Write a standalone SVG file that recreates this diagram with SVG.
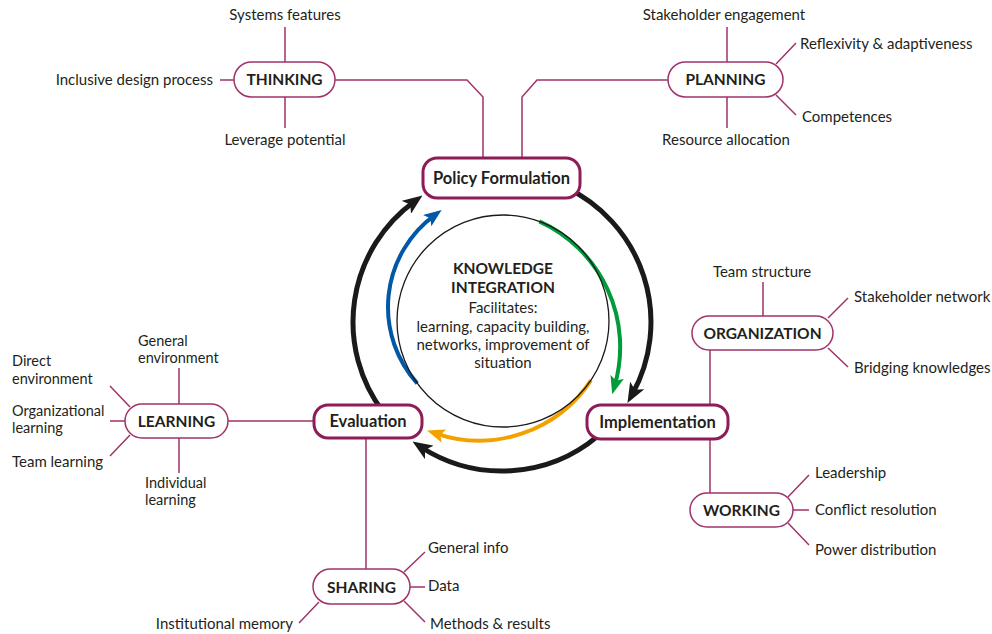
<svg xmlns="http://www.w3.org/2000/svg" width="992" height="634" viewBox="0 0 992 634">
<style>
.ln{fill:none;stroke:#a0336b;stroke-width:1.5}
.pill{fill:#fff;stroke:#a0336b;stroke-width:1.5}
.main{fill:#fff;stroke:#8c1d56;stroke-width:3}
.t{font-family:Lato,"Open Sans",sans-serif;font-size:15px;fill:#231f20}
.t2{font-size:14.5px}
.b{font-family:Lato,"Open Sans",sans-serif;font-size:15.5px;font-weight:700;fill:#231f20;text-anchor:middle}
.bm{font-size:16.5px}
.m{text-anchor:middle}
.e{text-anchor:end}
.blk{fill:none;stroke:#1a1a1a;stroke-width:5}
.col{fill:none;stroke-width:4}
</style>
<defs>
<marker id="ak" markerUnits="userSpaceOnUse" markerWidth="20" markerHeight="16" viewBox="0 0 20 16" refX="10" refY="8" orient="auto"><path d="M0,0 L20,8 L0,16 L5,8 z" fill="#1a1a1a"/></marker>
<marker id="ab" markerUnits="userSpaceOnUse" markerWidth="18" markerHeight="14" viewBox="0 0 18 14" refX="9" refY="7" orient="auto"><path d="M0,0 L18,7 L0,14 L4,7 z" fill="#0058a6"/></marker>
<marker id="ag" markerUnits="userSpaceOnUse" markerWidth="18" markerHeight="14" viewBox="0 0 18 14" refX="9" refY="7" orient="auto"><path d="M0,0 L18,7 L0,14 L4,7 z" fill="#009b3a"/></marker>
<marker id="ao" markerUnits="userSpaceOnUse" markerWidth="18" markerHeight="14" viewBox="0 0 18 14" refX="9" refY="7" orient="auto"><path d="M0,0 L18,7 L0,14 L4,7 z" fill="#f4a100"/></marker>
</defs>
<rect width="992" height="634" fill="#fff"/>
<g id="connectors">
<path class="ln" d="M285,27 V62 M285,97 V128 M220,80 H234 M335,80 H467 L483,97 V158"/>
<path class="ln" d="M727,27 V62 M727,97 V128 M776,64 L796,43 M776,95 L796,115 M668,80 H537 L522,97 V158"/>
<path class="ln" d="M179,368 V404 M179,438 V473 M110,386 L130,407 M110,421 H125 M130,435 L110,456 M228,421 H314"/>
<path class="ln" d="M366,438 V569"/>
<path class="ln" d="M404,572 L425,552 M410,587 H425 M404,601 L425,622 M319,602 L299,623"/>
<path class="ln" d="M763,282 V316 M828,318 L848,298 M828,348 L848,367 M710,350 V405"/>
<path class="ln" d="M710,439 V493"/>
<path class="ln" d="M788,497 L809,475 M793,510 H809 M788,523 L809,545"/>
<path class="blk" d="M565,187 A149,149 0 0 1 632.3,394.2" marker-end="url(#ak)"/>
<path class="blk" d="M597.8,436.1 A149,149 0 0 1 420.9,447" marker-end="url(#ak)"/>
<path class="blk" d="M383,411.7 A149,149 0 0 1 414.4,201.5" marker-end="url(#ak)"/>
<path class="col" stroke="#0058a6" d="M417.2,383.3 A114,114 0 0 1 434.4,215.3" marker-end="url(#ab)"/>
<path class="col" stroke="#009b3a" d="M539.3,221.4 A138,138 0 0 1 614.7,385.5" marker-end="url(#ag)"/>
<path class="col" stroke="#f4a100" d="M590.9,380.3 A134,134 0 0 1 435.5,433.3" marker-end="url(#ao)"/>
</g>
<g id="knowledge-integration">
<circle cx="503" cy="321" r="106" fill="none" stroke="#1a1a1a" stroke-width="1.3"/>
<text class="b" x="503" y="274" style="font-size:15.5px">KNOWLEDGE</text>
<text class="b" x="503" y="293" style="font-size:15.5px">INTEGRATION</text>
<text class="t m" x="503" y="313">Facilitates:</text>
<text class="t m" x="503" y="332">learning, capacity building,</text>
<text class="t m" x="503" y="350">networks, improvement of</text>
<text class="t m" x="503" y="368">situation</text>
</g>
<g id="policy-formulation">
<rect class="main" x="423" y="158" width="157" height="40" rx="14"/>
<text class="b bm" x="501.5" y="184">Policy Formulation</text>
</g>
<g id="evaluation">
<rect class="main" x="314" y="405" width="108" height="33" rx="14"/>
<text class="b bm" x="368" y="427">Evaluation</text>
</g>
<g id="implementation">
<rect class="main" x="587" y="405" width="141" height="34" rx="14"/>
<text class="b bm" x="657.5" y="427.5">Implementation</text>
</g>
<g id="thinking">
<rect class="pill" x="234" y="62" width="101" height="35" rx="17.5"/>
<text class="b" x="284.5" y="85">THINKING</text>
<text class="t m" x="285" y="20">Systems features</text>
<text class="t e" x="213" y="85">Inclusive design process</text>
<text class="t m" x="285" y="145">Leverage potential</text>
</g>
<g id="planning">
<rect class="pill" x="668" y="62" width="115" height="35" rx="17.5"/>
<text class="b" x="725.5" y="85">PLANNING</text>
<text class="t m" x="724" y="20">Stakeholder engagement</text>
<text class="t" x="800" y="49">Reflexivity &amp; adaptiveness</text>
<text class="t" x="802" y="122">Competences</text>
<text class="t m" x="726" y="145">Resource allocation</text>
</g>
<g id="learning">
<rect class="pill" x="125" y="404" width="103" height="34" rx="17"/>
<text class="b" x="176.5" y="427">LEARNING</text>
<text class="t t2" x="138" y="345.5">General</text>
<text class="t t2" x="138" y="363">environment</text>
<text class="t t2" x="12" y="366">Direct</text>
<text class="t t2" x="12" y="383.5">environment</text>
<text class="t t2" x="12" y="415.5">Organizational</text>
<text class="t t2" x="12" y="433">learning</text>
<text class="t" x="12" y="467">Team learning</text>
<text class="t t2" x="145" y="487.5">Individual</text>
<text class="t t2" x="145" y="505">learning</text>
</g>
<g id="sharing">
<rect class="pill" x="313" y="569" width="97" height="35" rx="17.5"/>
<text class="b" x="361.5" y="592.5">SHARING</text>
<text class="t" x="428" y="553">General info</text>
<text class="t" x="428" y="591">Data</text>
<text class="t" x="430" y="629">Methods &amp; results</text>
<text class="t e" x="293" y="629">Institutional memory</text>
</g>
<g id="organization">
<rect class="pill" x="692" y="316" width="141" height="34" rx="17"/>
<text class="b" x="762.5" y="339">ORGANIZATION</text>
<text class="t m" x="762" y="277">Team structure</text>
<text class="t" x="854" y="302">Stakeholder network</text>
<text class="t" x="854" y="373">Bridging knowledges</text>
</g>
<g id="working">
<rect class="pill" x="690" y="493" width="103" height="34" rx="17"/>
<text class="b" x="741.5" y="516">WORKING</text>
<text class="t" x="815" y="478">Leadership</text>
<text class="t" x="815" y="515">Conflict resolution</text>
<text class="t" x="815" y="555">Power distribution</text>
</g>
</svg>
